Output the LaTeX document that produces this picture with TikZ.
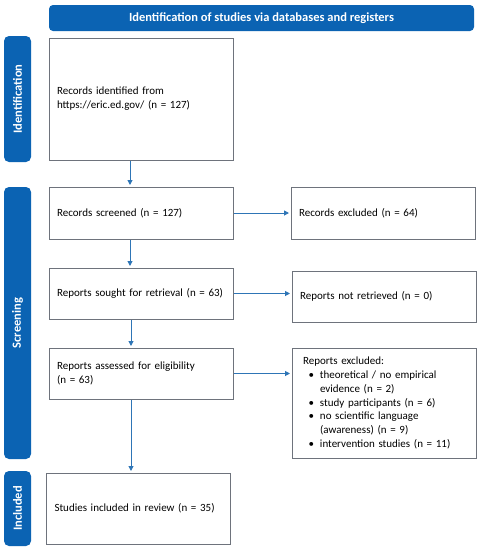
\documentclass[tikz,border=0pt]{standalone}
\usepackage{fontspec}
\setmainfont{Carlito}
\usetikzlibrary{arrows.meta}
\definecolor{prismablue}{HTML}{0B63B3}
\definecolor{arrowblue}{HTML}{2E75B6}
\definecolor{boxgray}{HTML}{6E737C}
\newcommand{\bul}{\par\hangindent=17pt\hangafter=1\noindent\hbox to 17pt{\hspace{5.5pt}\textbullet\hfil}}

\begin{document}
\begin{tikzpicture}
[
x=1pt,y=-1pt,
font=\fontsize{11}{13.8}\selectfont,
stage/.style 2 args={draw=boxgray,line width=1pt,text width=#1,minimum height=#2,inner xsep=8pt,inner ysep=0pt,align=left},
phase/.style={fill=prismablue,rounded corners=5pt,text=white,font=\bfseries\fontsize{12.5}{14}\selectfont,rotate=90,minimum height=27pt,inner sep=0pt},
header/.style={fill=prismablue,rounded corners=4pt,text=white,font=\bfseries\fontsize{12.5}{14}\selectfont,minimum width=425pt,minimum height=26pt,inner sep=0pt},
flow/.style={draw=arrowblue,line width=1pt,-{Triangle[length=5pt,width=5pt]},shorten >=1.5pt},
]
\useasboundingbox (0,0) rectangle (481,550);

%Place the nodes
\node[header] (head) at (261.5,18) {Identification of studies via databases and registers};
\node[phase,minimum width=126pt] (idbar) at (17.5,99) {Identification};
\node[phase,minimum width=272pt] (scbar) at (17.5,323) {Screening};
\node[phase,minimum width=75pt] (inbar) at (17.5,508.5) {Included};

\node[stage={168pt}{122pt}] (recid) at (141,99) {Records identified from\\https://eric.ed.gov/ (n = 127)};
\node[stage={168pt}{52pt}] (screened) at (141,213) {Records screened (n = 127)};
\node[stage={168pt}{52pt}] (recexcl) at (383,213) {Records excluded (n = 64)};
\node[stage={168pt}{51pt}] (sought) at (141,293.5) {Reports sought for retrieval (n = 63)};
\node[stage={168pt}{51pt}] (notret) at (384,296.5) {Reports not retrieved (n = 0)};
\node[stage={168pt}{51pt}] (assessed) at (141,373.5) {Reports assessed for eligibility\\(n = 63)};
\node[stage={162pt}{110pt},inner xsep=11pt] (repexcl) at (384,403) {Reports excluded:
  \bul theoretical / no empirical\newline evidence (n = 2)
  \bul study participants (n = 6)
  \bul no scientific language\newline (awareness) (n = 9)
  \bul intervention studies (n = 11)};
\node[stage={168pt}{71pt}] (incl) at (138.5,508.5) {Studies included in review (n = 35)};

%Draw the connections
\draw[flow] ([xshift=-11pt]recid.south) -- ([xshift=-11pt]screened.north);
\draw[flow] ([xshift=-11pt]screened.south) -- ([xshift=-11pt]sought.north);
\draw[flow] ([xshift=-10pt]sought.south) -- ([xshift=-10pt]assessed.north);
\draw[flow] ([xshift=-10pt]assessed.south) -- ([xshift=-10pt]assessed.south |- incl.north);
\draw[flow] (screened.east) -- (recexcl.west);
\draw[flow] (sought.east) -- (sought.east -| notret.west);
\draw[flow] (assessed.east) -- (assessed.east -| repexcl.west);
\end{tikzpicture}
\end{document}
